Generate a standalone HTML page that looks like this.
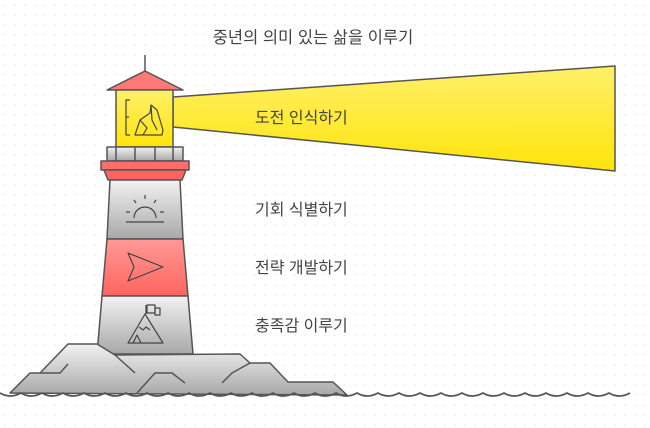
<!DOCTYPE html>
<html><head><meta charset="utf-8"><style>
html,body{margin:0;padding:0;background:#fff}
svg{display:block}
text{font-family:"Liberation Sans","Noto Sans CJK KR",sans-serif;fill:#444;font-size:16px}
</style></head><body>
<svg width="650" height="428" viewBox="0 0 650 428" xmlns="http://www.w3.org/2000/svg">
<defs>
<pattern id="dots" width="10" height="10" patternUnits="userSpaceOnUse"><circle cx="5" cy="5" r="0.8" fill="#e4e4e4"/></pattern>
<linearGradient id="yel" x1="0" y1="0" x2="0" y2="1"><stop offset="0" stop-color="#fff06a"/><stop offset="1" stop-color="#ffe40a"/></linearGradient>
<linearGradient id="gray" x1="0" y1="0" x2="0" y2="1"><stop offset="0" stop-color="#f2f2f2"/><stop offset="1" stop-color="#a8a8a8"/></linearGradient>
<linearGradient id="red" x1="0" y1="0" x2="0" y2="1"><stop offset="0" stop-color="#ff9a96"/><stop offset="1" stop-color="#ff6460"/></linearGradient>
</defs>
<rect width="650" height="428" fill="url(#dots)"/>
<text x="313" y="43" text-anchor="middle" style="font-size:16.5px">중년의 의미 있는 삶을 이루기</text>
<g stroke="#555" stroke-width="1.5" stroke-linejoin="round">
<polygon points="173,97 615,66 615,171 173,127" fill="url(#yel)"/>
<line x1="145" y1="55" x2="145" y2="72"/>
<polygon points="107,90 145,71 183,90" fill="#ff7a76"/>
<rect x="116" y="90" width="57" height="57" fill="url(#yel)"/>
<rect x="107" y="147" width="76" height="14" fill="url(#gray)"/>
<line x1="135" y1="147" x2="135" y2="161"/><line x1="155" y1="147" x2="155" y2="161"/>
<line x1="116" y1="147" x2="116" y2="161"/><line x1="173" y1="147" x2="173" y2="161"/>
<rect x="101" y="161" width="88" height="9" fill="#ff6e6a"/>
<polygon points="104,170 186,170 182,180 108,180" fill="#ff6460"/>
<polygon points="110,180 180,180 183,239 107,239" fill="url(#gray)"/>
<polygon points="107,239 183,239 188,296 102,296" fill="url(#red)"/>
<polygon points="102,296 188,296 193,354 97,354" fill="url(#gray)"/>
<polygon points="10,393 30,373 40,373 68,344 97,344 115,355 240,354 250,363 270,363 288,382 333,382 347,395" fill="url(#gray)"/>
<polyline points="40,373 60,373 68,364" fill="none"/>
<polyline points="115,355 125,364 135,373" fill="none"/>
<polyline points="137,393 155,373 172,373 185,383" fill="none"/>
<polyline points="222,383 232,373 250,363" fill="none"/>
<path d="M0,393 q10,6 21,0 q10,6 21,0 q10,6 21,0 q10,6 21,0 q10,6 21,0 q10,6 21,0 q10,6 21,0 q10,6 21,0 q10,6 21,0 q10,6 21,0 q10,6 21,0 q10,6 21,0 q10,6 21,0 q10,6 21,0 q10,6 21,0 q10,6 21,0 q10,6 21,0 q10,6 21,0 q10,6 21,0 q10,6 21,0 q10,6 21,0 q10,6 21,0 q10,6 21,0 q10,6 21,0 q10,6 21,0 q10,6 21,0 q10,6 21,0 q10,6 21,0 q10,6 21,0 q10,6 21,0" fill="none" stroke-width="1.8"/>
</g>
<g stroke="#444" stroke-width="1.2" fill="none" stroke-linejoin="round">
<polyline points="130,100 126,100 126,135 130,135"/><line x1="126" y1="117" x2="129" y2="117"/>
<polygon points="135,135 140,120 150,113 151,105 157,110 163,130 162,135"/>
<polyline points="140,120 147,128 143,135"/><polyline points="151,105 152,120 157,130"/>
<line x1="126" y1="222" x2="164" y2="222"/>
<path d="M134,218 a11,11 0 0 1 22,0"/>
<line x1="145" y1="195" x2="145" y2="199"/><line x1="134" y1="200" x2="136" y2="203"/><line x1="156" y1="200" x2="154" y2="203"/>
<line x1="126" y1="212" x2="130" y2="212"/><line x1="160" y1="212" x2="164" y2="212"/>
<polygon points="128,253 163,267 128,281 134,267"/>
<polygon points="128,343 145,314 163,343"/>
<polyline points="133,343 137,335 141,343"/>
<polyline points="139,327 143,330 146,327 150,330"/>
<line x1="146" y1="314" x2="146" y2="305"/><rect x="147" y="305" width="8" height="8"/><rect x="155" y="308" width="5" height="7"/>
</g>
<text x="255" y="123">도전 인식하기</text>
<text x="255" y="215">기회 식별하기</text>
<text x="255" y="273">전략 개발하기</text>
<text x="255" y="331">충족감 이루기</text>
</svg>
</body></html>
